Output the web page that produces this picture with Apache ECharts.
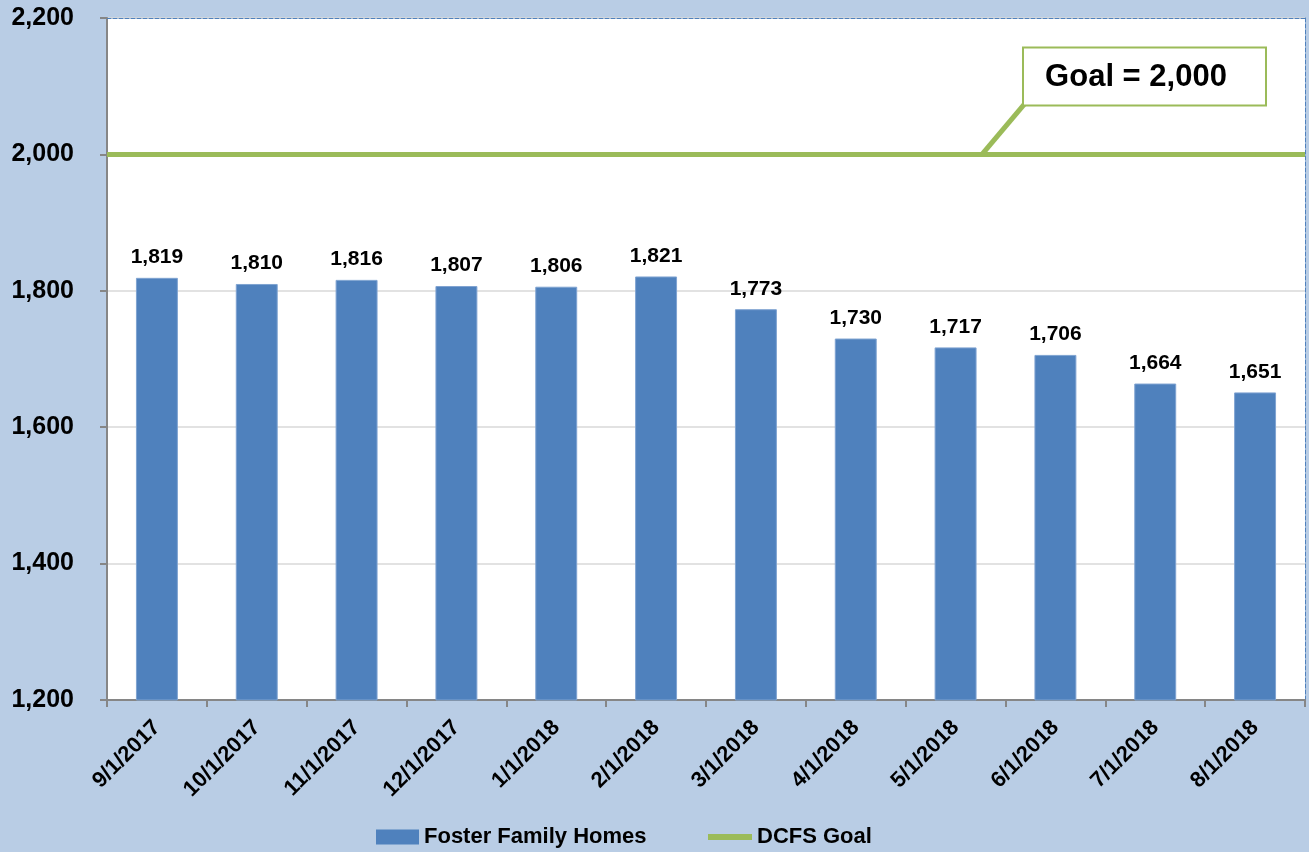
<!DOCTYPE html>
<html>
<head>
<meta charset="utf-8">
<script src="https://cdn.jsdelivr.net/npm/echarts@6/dist/echarts.min.js"></script>
<style>
  html, body { margin: 0; padding: 0; background: #b9cde5; }
  #chart { width: 1309px; height: 852px; }
</style>
</head>
<body>
<div id="chart"></div>
<script>
const months = ['9/1/2017', '10/1/2017', '11/1/2017', '12/1/2017', '1/1/2018', '2/1/2018',
  '3/1/2018', '4/1/2018', '5/1/2018', '6/1/2018', '7/1/2018', '8/1/2018'];
const fosterHomes = [1819, 1810, 1816, 1807, 1806, 1821, 1773, 1730, 1717, 1706, 1664, 1651];
const goalValues = [2000, 2000, 2000, 2000, 2000, 2000, 2000, 2000, 2000, 2000, 2000, 2000];
const goalText = 'Goal = 2,000';

const font = '"Liberation Sans", Arial, sans-serif';
const green = '#9bbb59';
const blue = '#4f81bd';
const legendText = { fontFamily: font, fontWeight: 'bold', fontSize: 22, color: '#000', lineHeight: 24 };

const chart = echarts.init(document.getElementById('chart'));

let option = {
  backgroundColor: '#b9cde5',
  textStyle: { fontFamily: font },
  grid: {
    left: 107,
    right: 4,
    top: 18,
    bottom: 152,
    show: true,
    backgroundColor: '#ffffff',
    borderWidth: 0
  },
  legend: [{
    left: 371,
    top: 820,
    itemWidth: 43,
    itemHeight: 15,
    textStyle: legendText,
    data: [{ name: 'Foster Family Homes', icon: 'rect', itemStyle: { borderWidth: 0 } }]
  }, {
    left: 703,
    top: 820,
    itemWidth: 44,
    itemHeight: 6,
    textStyle: legendText,
    data: [{ name: 'DCFS Goal', icon: 'rect' }]
  }],
  xAxis: [{
    type: 'category',
    data: months,
    axisLine: { lineStyle: { color: '#868686', width: 2 } },
    axisTick: { show: true, length: 7, lineStyle: { color: '#868686', width: 2 } },
    axisLabel: {
      rotate: 45,
      margin: 24,
      color: '#000',
      fontFamily: font,
      fontWeight: 'bold',
      fontSize: 22
    }
  }, {
    type: 'category',
    position: 'top',
    data: months,
    axisLine: { lineStyle: { color: blue, width: 1, type: [4, 2] } },
    axisTick: { show: false },
    axisLabel: { show: false }
  }],
  yAxis: [{
    type: 'value',
    min: 1200,
    max: 2200,
    interval: 200,
    axisLine: { show: true, lineStyle: { color: '#868686', width: 2 } },
    axisTick: { show: true, length: 7, lineStyle: { color: '#868686', width: 2 } },
    axisLabel: {
      margin: 33,
      color: '#000',
      fontFamily: font,
      fontWeight: 'bold',
      fontSize: 25,
      formatter: v => v.toLocaleString('en-US')
    },
    splitLine: { lineStyle: { color: '#d9d9d9', width: 1.5 } }
  }, {
    type: 'value',
    position: 'right',
    min: 1200,
    max: 2200,
    interval: 200,
    axisLine: { show: true, lineStyle: { color: blue, width: 1, type: [4, 2] } },
    axisTick: { show: false },
    axisLabel: { show: false },
    splitLine: { show: false }
  }],
  series: [{
    name: 'Foster Family Homes',
    type: 'bar',
    barWidth: '42%',
    data: fosterHomes,
    itemStyle: { color: blue, borderColor: '#7fa3d1', borderWidth: 1 },
    label: {
      show: true,
      position: 'top',
      distance: 10,
      color: '#000',
      fontFamily: font,
      fontWeight: 'bold',
      fontSize: 21,
      formatter: p => p.value.toLocaleString('en-US')
    }
  }, {
    name: 'DCFS Goal',
    type: 'line',
    data: goalValues,
    symbol: 'none',
    z: 5,
    lineStyle: { color: green, width: 5 },
    itemStyle: { color: green },
    markLine: {
      silent: true,
      symbol: 'none',
      label: { show: false },
      lineStyle: { color: green, width: 5, type: 'solid' },
      data: [{ yAxis: goalValues[0] }]
    }
  }]
};
chart.setOption(option);

// callout box for the goal line
const goalY = chart.convertToPixel({ yAxisIndex: 0 }, goalValues[0]);
chart.setOption({
  graphic: [{
    type: 'line',
    z: 10,
    shape: { x1: 982, y1: goalY, x2: 1025, y2: goalY - 51 },
    style: { stroke: green, lineWidth: 5 }
  }, {
    type: 'rect',
    z: 11,
    shape: { x: 1023, y: goalY - 107, width: 243, height: 58 },
    style: { fill: '#fff', stroke: green, lineWidth: 2 }
  }, {
    type: 'text',
    z: 12,
    x: 1136,
    y: goalY - 77,
    style: {
      text: goalText,
      fill: '#000',
      font: 'bold 31px ' + font,
      align: 'center',
      verticalAlign: 'middle'
    }
  }]
});
</script>
</body>
</html>
